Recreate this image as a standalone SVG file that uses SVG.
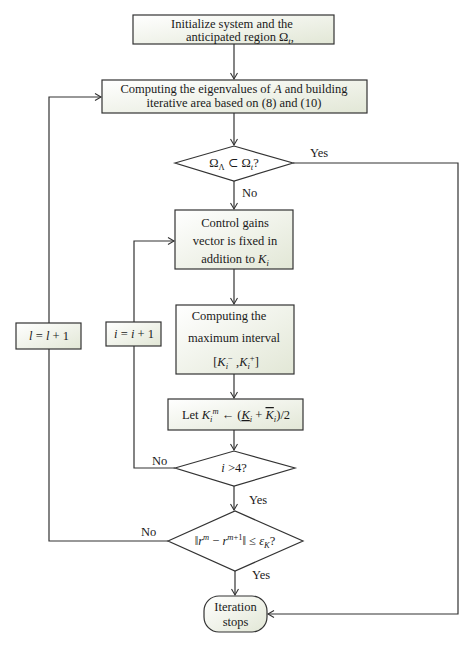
<svg xmlns="http://www.w3.org/2000/svg" width="474" height="648" viewBox="0 0 474 648">
<defs>
<linearGradient id="g" x1="0" y1="0" x2="1" y2="1">
<stop offset="0" stop-color="#ffffff"/>
<stop offset="1" stop-color="#e2e7d6"/>
</linearGradient>
<marker id="a" markerUnits="userSpaceOnUse" markerWidth="10" markerHeight="10" refX="7" refY="4" orient="auto">
<path d="M1,0.5 L7,4 L1,7.5" fill="none" stroke="#333" stroke-width="1.1"/>
</marker>
</defs>
<style>
.n{fill:url(#g);stroke:#333;stroke-width:1.2}
.d{fill:#fff;stroke:#333;stroke-width:1.2}
.c{fill:none;stroke:#333;stroke-width:1.2}
text{font-family:"Liberation Serif","DejaVu Serif",serif;font-size:12.5px;fill:#1a1a1a}
.m{text-anchor:middle}
.i{font-style:italic}
</style>
<rect width="474" height="648" fill="#fff"/>
<g id="connectors">
<path class="c" d="M234,44 V79" marker-end="url(#a)"/>
<path class="c" d="M234,113 V145" marker-end="url(#a)"/>
<path class="c" d="M234,181 V209" marker-end="url(#a)"/>
<path class="c" d="M293,163 H458 V614 H268" marker-end="url(#a)"/>
<path class="c" d="M234,269 V304" marker-end="url(#a)"/>
<path class="c" d="M234,374 V398" marker-end="url(#a)"/>
<path class="c" d="M234,430 V450" marker-end="url(#a)"/>
<path class="c" d="M175,468 H134 V346"/>
<path class="c" d="M134,322 V241 H174" marker-end="url(#a)"/>
<path class="c" d="M234,486 V510" marker-end="url(#a)"/>
<path class="c" d="M168,541 H49 V349"/>
<path class="c" d="M49,323 V97 H101" marker-end="url(#a)"/>
<path class="c" d="M235,571 V595" marker-end="url(#a)"/>
<text x="310" y="157">Yes</text>
<text x="242" y="197">No</text>
<text x="152" y="465">No</text>
<text x="249" y="504">Yes</text>
<text x="141" y="536">No</text>
<text x="252" y="579">Yes</text>
</g>
<g id="init">
<rect class="n" x="133" y="15" width="201" height="29"/>
<text class="m" x="232" y="28">Initialize system and the</text>
<text class="m" x="240" y="41">anticipated region Ω<tspan class="i" font-size="9" dy="3">t</tspan><tspan dy="-3">,</tspan></text>
</g>
<g id="eigen">
<rect class="n" x="102" y="80" width="265" height="33"/>
<text class="m" x="234" y="93">Computing the eigenvalues of <tspan class="i">A</tspan> and building</text>
<text class="m" x="234" y="107">iterative area based on (8) and (10)</text>
</g>
<g id="dec1">
<polygon class="d" points="175,163 234,146 293,163 234,181"/>
<text class="m" x="234" y="167">Ω<tspan font-size="8.5" dy="3">Λ</tspan><tspan dy="-3"> ⊂ Ω</tspan><tspan class="i" font-size="8.5" dy="3">t</tspan><tspan dy="-3">?</tspan></text>
</g>
<g id="control">
<rect class="n" x="175" y="210" width="118" height="59"/>
<text class="m" x="235" y="227">Control gains</text>
<text class="m" x="235" y="245">vector is fixed in</text>
<text class="m" x="235" y="263">addition to <tspan class="i">K</tspan><tspan class="i" font-size="8.5" dy="3">i</tspan></text>
</g>
<g id="interval">
<rect class="n" x="176" y="305" width="118" height="69"/>
<text class="m" x="229" y="320">Computing the</text>
<text class="m" x="234" y="342">maximum interval</text>
<text class="m" x="236" y="366">[<tspan class="i">K</tspan><tspan class="i" font-size="8.5" dy="3">i</tspan><tspan font-size="8.5" dy="-8">−</tspan><tspan dy="5"> ,</tspan><tspan class="i">K</tspan><tspan class="i" font-size="8.5" dy="3">i</tspan><tspan font-size="8.5" dy="-8">+</tspan><tspan dy="5">]</tspan></text>
</g>
<g id="let">
<rect class="n" x="168" y="399" width="135" height="31"/>
<text class="m" x="236" y="419">Let <tspan class="i">K</tspan><tspan class="i" font-size="8.5" dy="3">i</tspan><tspan class="i" font-size="8.5" dy="-8">m</tspan><tspan dy="5"> ← (</tspan><tspan class="i" text-decoration="underline">K</tspan><tspan class="i" font-size="8.5" dy="3">i</tspan><tspan dy="-3"> + </tspan><tspan class="i" text-decoration="overline">K</tspan><tspan class="i" font-size="8.5" dy="3">i</tspan><tspan dy="-3">)/2</tspan></text>
</g>
<g id="dec2">
<polygon class="d" points="175,468 234,451 295,468 234,486"/>
<text class="m" x="234" y="472"><tspan class="i">i</tspan> &gt;4?</text>
</g>
<g id="incI">
<rect class="n" x="106" y="322" width="55" height="24"/>
<text class="m" x="134" y="338"><tspan class="i">i</tspan> = <tspan class="i">i</tspan> + 1</text>
</g>
<g id="incL">
<rect class="n" x="16" y="323" width="65" height="26"/>
<text class="m" x="49" y="340"><tspan class="i">l</tspan> = <tspan class="i">l</tspan> + 1</text>
</g>
<g id="dec3">
<polygon class="d" points="168,541 235,511 303,541 235,571"/>
<text class="m" x="235" y="545">‖<tspan class="i">r</tspan><tspan class="i" font-size="8.5" dy="-5">m</tspan><tspan dy="5"> − </tspan><tspan class="i">r</tspan><tspan class="i" font-size="8.5" dy="-5">m</tspan><tspan font-size="8.5">+1</tspan><tspan dy="5">‖ ≤ </tspan><tspan class="i">ε</tspan><tspan class="i" font-size="8.5" dy="3">K</tspan><tspan dy="-3">?</tspan></text>
</g>
<g id="stop">
<rect class="n" x="204" y="596" width="63" height="36" rx="15" ry="15"/>
<text class="m" x="235.5" y="611">Iteration</text>
<text class="m" x="235.5" y="626">stops</text>
</g>
</svg>
